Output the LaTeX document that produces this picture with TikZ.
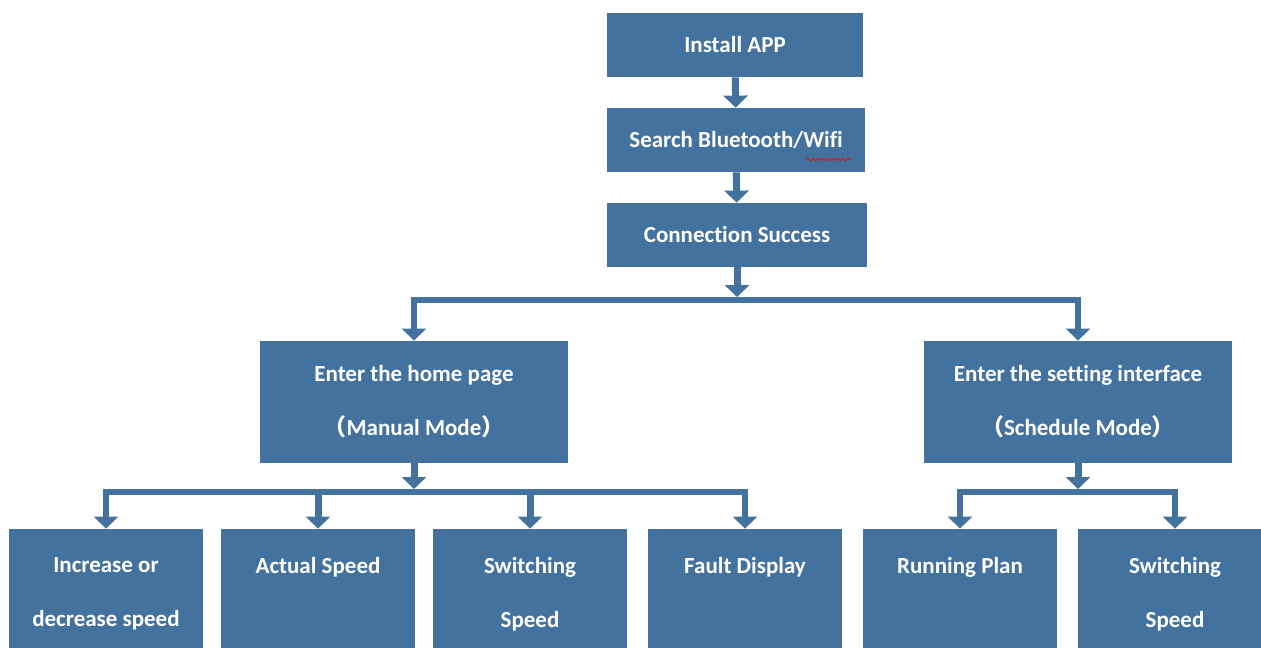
\documentclass[tikz,border=0pt]{standalone}
\usepackage{fontspec}
\setmainfont{Carlito}[Ligatures=NoCommon]
\newfontfamily\cjk{Noto Sans CJK SC}
\usetikzlibrary{arrows.meta,decorations.pathmorphing}
\definecolor{boxblue}{RGB}{68,114,158}
\tikzset{
	stepbox/.style={fill=boxblue, text=white, font=\bfseries\fontsize{11.5}{27}\selectfont, align=center, inner sep=0pt},
	smallbox/.style={stepbox, minimum width=128pt, minimum height=32pt},
	modebox/.style={stepbox, minimum width=154pt, minimum height=61pt},
	leafbox/.style={stepbox, minimum width=97pt, minimum height=65pt},
	flow/.style={draw=boxblue, line width=3.5pt, -{Triangle[width=12pt,length=6pt]}},
	fork/.style={draw=boxblue, line width=3pt, {Triangle[width=12pt,length=6pt]}-{Triangle[width=12pt,length=6pt]}},
}
\newcommand{\lpar}{{\cjk （}}
\newcommand{\rpar}{{\cjk ）}}
\begin{document}
\begin{tikzpicture}[x=0.5pt,y=-0.5pt]
	\useasboundingbox[fill=white] (0,0) rectangle (1261,647);

	\node[smallbox] (install) at (735,45) {Install APP};
	\node[smallbox, minimum width=129pt] (search) at (736,140) {Search Bluetooth/Wifi};
	\node[smallbox, minimum width=130pt] (conn) at (737,235) {Connection Success};

	\node[modebox] (home) at (414,402) {Enter the home page\\\lpar Manual Mode\rpar};
	\node[modebox] (setting) at (1078,402) {Enter the setting interface\\\lpar Schedule Mode\rpar};

	\node[leafbox] (incdec) at (106,594) {Increase or\\decrease speed};
	\node[leafbox] (actual) at (318,594) {Actual Speed\\\vphantom{p}};
	\node[leafbox] (switchA) at (530,594) {Switching\\Speed};
	\node[leafbox] (fault) at (745,594) {Fault Display\\\vphantom{p}};
	\node[leafbox] (plan) at (960,594) {Running Plan\\\vphantom{p}};
	\node[leafbox] (switchB) at (1175,594) {Switching\\Speed};

	% spell-check mark under Wifi
	\draw[red, line width=0.4pt, decorate, decoration={snake, amplitude=0.6pt, segment length=2.5pt}]
		([xshift=-29.5pt,yshift=6.5pt]search.south east) -- ([xshift=-7.5pt,yshift=6.5pt]search.south east);

	\draw[flow] (install) -- (search);
	\draw[flow] (search) -- (conn);

	\coordinate (split1) at (737,300);
	\draw[flow, shorten >=1.5pt] (conn) -- (split1);
	\draw[fork] (home.north) |- (split1) -| (setting.north);

	\coordinate (split2) at (home.south |- 0,492);
	\draw[flow, shorten >=1.5pt] (home) -- (split2);
	\draw[fork] (incdec.north) |- (split2) -| (fault.north);
	\draw[flow] (split2 -| actual.north) -- (actual.north);
	\draw[flow] (split2 -| switchA.north) -- (switchA.north);

	\coordinate (split3) at (setting.south |- 0,492);
	\draw[flow, shorten >=1.5pt] (setting) -- (split3);
	\draw[fork] (plan.north) |- (split3) -| (switchB.north);
\end{tikzpicture}
\end{document}
